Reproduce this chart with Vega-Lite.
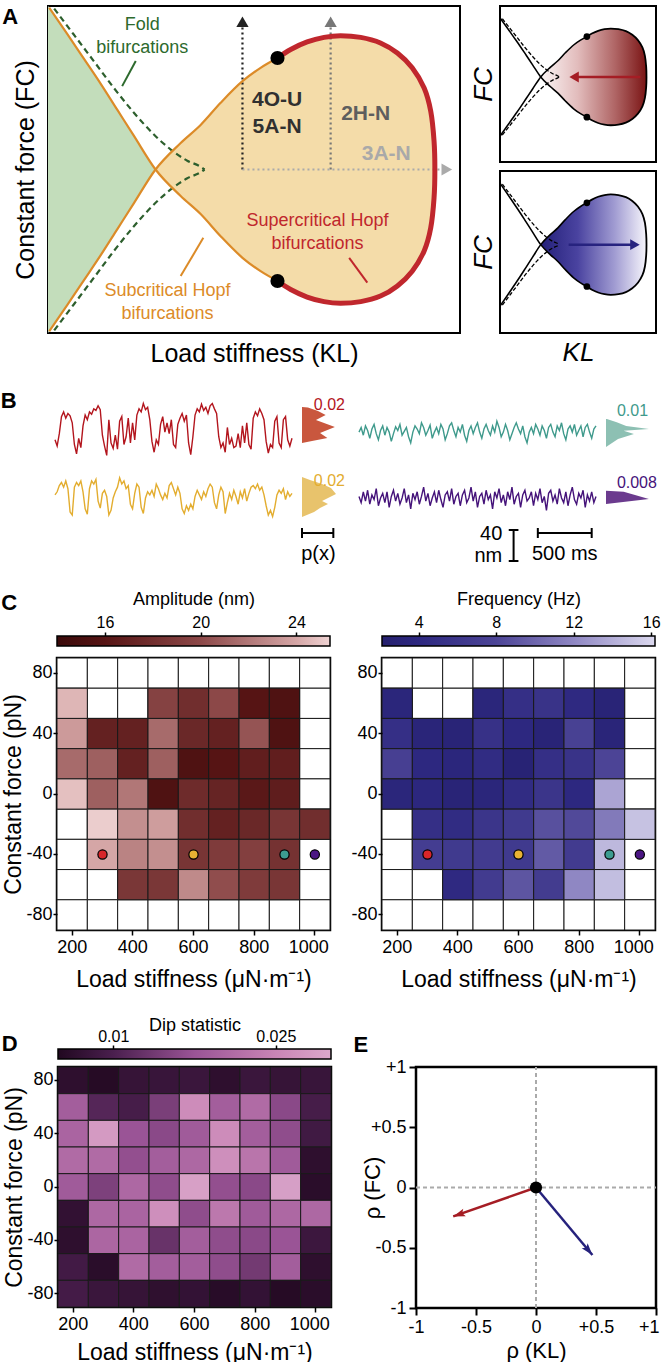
{
"$schema":"https://vega.github.io/schema/vega-lite/v6.json",
"padding":{"left":0,"top":2,"right":0,"bottom":0},
"background":"white",
"columns":1,
"align":"none",
"spacing":23,
"resolve":{"scale":{"color":"independent","fill":"independent"}},
"config":{"font":"Liberation Sans","view":{"stroke":null},"axis":{"grid":false,"labelColor":"black","titleColor":"black","tickColor":"black","domainColor":"black","titleFontWeight":"normal"}},
"datasets":{
"green":[{"x":0,"y":50,"y2":-50},{"x":0.3,"y":49.5,"y2":-49.5},{"x":4.7,"y":41.4,"y2":-41.4},{"x":8.7,"y":33.9,"y2":-33.9},{"x":12.8,"y":26.2,"y2":-26.2},{"x":16.8,"y":18.3,"y2":-18.3},{"x":20.9,"y":10.2,"y2":-10.2},{"x":26.1,"y":0,"y2":0}],
"tan":[{"x":26.1,"y":0,"y2":0},{"x":32.2,"y":8.1,"y2":-8.1},{"x":37.1,"y":13.7,"y2":-13.7},{"x":41.9,"y":20.4,"y2":-20.4},{"x":47.2,"y":27,"y2":-27},{"x":51.6,"y":31.1,"y2":-31.1},{"x":55.7,"y":34.1,"y2":-34.1},{"x":58.9,"y":36.7,"y2":-36.7},{"x":62.9,"y":39,"y2":-39},{"x":67,"y":40.4,"y2":-40.4},{"x":71,"y":40.9,"y2":-40.9},{"x":75.9,"y":40.4,"y2":-40.4},{"x":80.7,"y":38.7,"y2":-38.7},{"x":84.8,"y":35.6,"y2":-35.6},{"x":88.4,"y":31.1,"y2":-31.1},{"x":91.3,"y":24.9,"y2":-24.9},{"x":92.9,"y":17.8,"y2":-17.8},{"x":93.7,"y":8.7,"y2":-8.7},{"x":93.9,"y":0,"y2":0}],
"hopfSub":[{"b":"d","i":0,"x":0.3,"y":49.5},{"b":"d","i":1,"x":4.7,"y":41.4},{"b":"d","i":2,"x":8.7,"y":33.9},{"b":"d","i":3,"x":12.8,"y":26.2},{"b":"d","i":4,"x":16.8,"y":18.3},{"b":"d","i":5,"x":20.9,"y":10.2},{"b":"d","i":6,"x":26.1,"y":0},{"b":"d","i":7,"x":32.2,"y":-8.1},{"b":"d","i":8,"x":37.1,"y":-13.7},{"b":"d","i":9,"x":41.9,"y":-20.4},{"b":"d","i":10,"x":47.2,"y":-27},{"b":"d","i":11,"x":51.6,"y":-31.1},{"b":"d","i":12,"x":55.7,"y":-34.1},
{"b":"a","i":0,"x":0.3,"y":-49.5},{"b":"a","i":1,"x":4.7,"y":-41.4},{"b":"a","i":2,"x":8.7,"y":-33.9},{"b":"a","i":3,"x":12.8,"y":-26.2},{"b":"a","i":4,"x":16.8,"y":-18.3},{"b":"a","i":5,"x":20.9,"y":-10.2},{"b":"a","i":6,"x":26.1,"y":0},{"b":"a","i":7,"x":32.2,"y":8.1},{"b":"a","i":8,"x":37.1,"y":13.7},{"b":"a","i":9,"x":41.9,"y":20.4},{"b":"a","i":10,"x":47.2,"y":27},{"b":"a","i":11,"x":51.6,"y":31.1},{"b":"a","i":12,"x":55.7,"y":34.1}],
"hopfSup":[{"i":0,"x":55.7,"y":34.1},{"i":1,"x":58.9,"y":36.7},{"i":2,"x":62.9,"y":39},{"i":3,"x":67,"y":40.4},{"i":4,"x":71,"y":40.9},{"i":5,"x":75.9,"y":40.4},{"i":6,"x":80.7,"y":38.7},{"i":7,"x":84.8,"y":35.6},{"i":8,"x":88.4,"y":31.1},{"i":9,"x":91.3,"y":24.9},{"i":10,"x":92.9,"y":17.8},{"i":11,"x":93.7,"y":8.7},{"i":12,"x":93.9,"y":0},{"i":13,"x":93.7,"y":-8.7},{"i":14,"x":92.9,"y":-17.8},{"i":15,"x":91.3,"y":-24.9},{"i":16,"x":88.4,"y":-31.1},{"i":17,"x":84.8,"y":-35.6},{"i":18,"x":80.7,"y":-38.7},{"i":19,"x":75.9,"y":-40.4},{"i":20,"x":71,"y":-40.9},{"i":21,"x":67,"y":-40.4},{"i":22,"x":62.9,"y":-39},{"i":23,"x":58.9,"y":-36.7},{"i":24,"x":55.7,"y":-34.1}],
"fold":[{"b":"u","i":0,"x":1.5,"y":49.2},{"b":"u","i":1,"x":6.3,"y":41.2},{"b":"u","i":2,"x":11.2,"y":33},{"b":"u","i":3,"x":16,"y":24.9},{"b":"u","i":4,"x":20.9,"y":17.3},{"b":"u","i":5,"x":25.7,"y":10.7},{"b":"u","i":6,"x":29.8,"y":6.1},{"b":"u","i":7,"x":33.8,"y":2.7},{"b":"u","i":8,"x":37.1,"y":0.8},{"b":"u","i":9,"x":38,"y":0},
{"b":"l","i":0,"x":1.5,"y":-49.2},{"b":"l","i":1,"x":6.3,"y":-41.2},{"b":"l","i":2,"x":11.2,"y":-33},{"b":"l","i":3,"x":16,"y":-24.9},{"b":"l","i":4,"x":20.9,"y":-17.3},{"b":"l","i":5,"x":25.7,"y":-10.7},{"b":"l","i":6,"x":29.8,"y":-6.1},{"b":"l","i":7,"x":33.8,"y":-2.7},{"b":"l","i":8,"x":37.1,"y":-0.8},{"b":"l","i":9,"x":38,"y":0}],
"guides":[{"g":"k","x":47.2,"y":0,"x2":47.2,"y2":43.5},{"g":"m","x":68.6,"y":0,"x2":68.6,"y2":43.5},{"g":"l","x":47.2,"y":0,"x2":95.5,"y2":0}],
"heads":[{"g":"k","x":47.2,"y":45.2},{"g":"m","x":68.6,"y":45.2}],
"headR":[{"g":"l","x":96.8,"y":0}],
"letterA":[{"x":-9.2,"y":46.5,"t":"A"}],
"arrRed":[{"x":90,"x2":48,"y":0}],
"headRed":[{"x":47.5,"y":0}],
"arrBlue":[{"x":44,"x2":86,"y":0}],
"headBlue":[{"x":86.5,"y":0}],
"annA":[{"x":22.9,"y":44.1,"t":"Fold","c":"fold"},{"x":22.9,"y":37.2,"t":"bifurcations","c":"fold"},{"x":65.4,"y":-15.8,"t":"Supercritical Hopf","c":"super"},{"x":65.4,"y":-22.7,"t":"bifurcations","c":"super"},{"x":29,"y":-37.2,"t":"Subcritical Hopf","c":"sub"},{"x":29,"y":-44.1,"t":"bifurcations","c":"sub"}],
"regA":[{"x":55.6,"y":21.4,"t":"4O-U","c":"r1"},{"x":55.6,"y":12.9,"t":"5A-N","c":"r1"},{"x":77.1,"y":17,"t":"2H-N","c":"r2"},{"x":82.1,"y":4.6,"t":"3A-N","c":"r3"}],
"ptrA":[{"x":18,"y":25.5,"x2":21.3,"y2":33.2,"c":"fold"},{"x":73.1,"y":-27,"x2":77.5,"y2":-34.6,"c":"super"},{"x":32.2,"y":-32.6,"x2":37.7,"y2":-20.9,"c":"sub"}],
"trRed":[{"t":0,"v":-14},{"t":0.02,"v":-22},{"t":0.04,"v":-6},{"t":0.06,"v":16},{"t":0.08,"v":22},{"t":0.1,"v":14},{"t":0.12,"v":20},{"t":0.14,"v":17},{"t":0.16,"v":8},{"t":0.18,"v":-20},
{"t":0.2,"v":-32},{"t":0.22,"v":-12},{"t":0.24,"v":-24},{"t":0.26,"v":4},{"t":0.28,"v":18},{"t":0.3,"v":12},{"t":0.32,"v":22},{"t":0.34,"v":19},{"t":0.36,"v":26},{"t":0.38,"v":24},
{"t":0.4,"v":30},{"t":0.42,"v":25},{"t":0.44,"v":-8},{"t":0.46,"v":-22},{"t":0.48,"v":-34},{"t":0.5,"v":12},{"t":0.52,"v":-18},{"t":0.54,"v":-25},{"t":0.56,"v":-8},{"t":0.58,"v":-26},
{"t":0.6,"v":10},{"t":0.62,"v":16},{"t":0.64,"v":-20},{"t":0.66,"v":-10},{"t":0.68,"v":14},{"t":0.7,"v":-18},{"t":0.72,"v":8},{"t":0.74,"v":-14},{"t":0.76,"v":18},{"t":0.78,"v":26},
{"t":0.8,"v":22},{"t":0.82,"v":33},{"t":0.84,"v":25},{"t":0.86,"v":28},{"t":0.88,"v":12},{"t":0.9,"v":-16},{"t":0.92,"v":-30},{"t":0.94,"v":-14},{"t":0.96,"v":-20},{"t":0.98,"v":6},
{"t":1,"v":16},{"t":1.02,"v":-4},{"t":1.04,"v":8},{"t":1.06,"v":-6},{"t":1.08,"v":12},{"t":1.1,"v":-20},{"t":1.12,"v":-24},{"t":1.14,"v":6},{"t":1.16,"v":14},{"t":1.18,"v":20},
{"t":1.2,"v":10},{"t":1.22,"v":18},{"t":1.24,"v":-18},{"t":1.26,"v":-33},{"t":1.28,"v":-10},{"t":1.3,"v":18},{"t":1.32,"v":26},{"t":1.34,"v":22},{"t":1.36,"v":32},{"t":1.38,"v":24},
{"t":1.4,"v":28},{"t":1.42,"v":20},{"t":1.44,"v":30},{"t":1.46,"v":33},{"t":1.48,"v":26},{"t":1.5,"v":20},{"t":1.52,"v":-10},{"t":1.54,"v":-24},{"t":1.56,"v":-18},{"t":1.58,"v":-30},
{"t":1.6,"v":2},{"t":1.62,"v":-20},{"t":1.64,"v":-12},{"t":1.66,"v":-24},{"t":1.68,"v":-22},{"t":1.7,"v":-6},{"t":1.72,"v":-24},{"t":1.74,"v":4},{"t":1.76,"v":-18},{"t":1.78,"v":8},
{"t":1.8,"v":-20},{"t":1.82,"v":-26},{"t":1.84,"v":14},{"t":1.86,"v":22},{"t":1.88,"v":17},{"t":1.9,"v":26},{"t":1.92,"v":20},{"t":1.94,"v":12},{"t":1.96,"v":-16},{"t":1.98,"v":-31},
{"t":2,"v":-20},{"t":2.02,"v":-24},{"t":2.04,"v":10},{"t":2.06,"v":16},{"t":2.08,"v":-18},{"t":2.1,"v":-24},{"t":2.12,"v":12},{"t":2.14,"v":16},{"t":2.16,"v":-14},{"t":2.18,"v":-22},{"t":2.2,"v":-12}],
"trTeal":[{"t":0,"v":-4},{"t":0.02,"v":2},{"t":0.04,"v":-8},{"t":0.06,"v":4},{"t":0.08,"v":-2},{"t":0.1,"v":-12},{"t":0.12,"v":0},{"t":0.14,"v":6},{"t":0.16,"v":-6},{"t":0.18,"v":-14},
{"t":0.2,"v":-2},{"t":0.22,"v":4},{"t":0.24,"v":-8},{"t":0.26,"v":2},{"t":0.28,"v":-4},{"t":0.3,"v":-16},{"t":0.32,"v":-6},{"t":0.34,"v":3},{"t":0.36,"v":-2},{"t":0.38,"v":6},
{"t":0.4,"v":-8},{"t":0.42,"v":-3},{"t":0.44,"v":2},{"t":0.46,"v":-10},{"t":0.48,"v":-18},{"t":0.5,"v":-4},{"t":0.52,"v":4},{"t":0.54,"v":0},{"t":0.56,"v":-6},{"t":0.58,"v":8},
{"t":0.6,"v":2},{"t":0.62,"v":-8},{"t":0.64,"v":-2},{"t":0.66,"v":5},{"t":0.68,"v":-12},{"t":0.7,"v":-4},{"t":0.72,"v":2},{"t":0.74,"v":-6},{"t":0.76,"v":6},{"t":0.78,"v":0},
{"t":0.8,"v":-14},{"t":0.82,"v":-6},{"t":0.84,"v":4},{"t":0.86,"v":8},{"t":0.88,"v":-2},{"t":0.9,"v":-10},{"t":0.92,"v":2},{"t":0.94,"v":-4},{"t":0.96,"v":6},{"t":0.98,"v":-8},
{"t":1,"v":-16},{"t":1.02,"v":-2},{"t":1.04,"v":4},{"t":1.06,"v":-6},{"t":1.08,"v":2},{"t":1.1,"v":8},{"t":1.12,"v":-4},{"t":1.14,"v":-12},{"t":1.16,"v":0},{"t":1.18,"v":6},
{"t":1.2,"v":-2},{"t":1.22,"v":-8},{"t":1.24,"v":4},{"t":1.26,"v":-4},{"t":1.28,"v":10},{"t":1.3,"v":2},{"t":1.32,"v":-10},{"t":1.34,"v":-4},{"t":1.36,"v":6},{"t":1.38,"v":-2},
{"t":1.4,"v":-14},{"t":1.42,"v":-6},{"t":1.44,"v":2},{"t":1.46,"v":8},{"t":1.48,"v":0},{"t":1.5,"v":-6},{"t":1.52,"v":4},{"t":1.54,"v":-10},{"t":1.56,"v":-18},{"t":1.58,"v":-4},
{"t":1.6,"v":2},{"t":1.62,"v":-6},{"t":1.64,"v":6},{"t":1.66,"v":0},{"t":1.68,"v":-8},{"t":1.7,"v":4},{"t":1.72,"v":-2},{"t":1.74,"v":-12},{"t":1.76,"v":2},{"t":1.78,"v":6},
{"t":1.8,"v":-4},{"t":1.82,"v":-10},{"t":1.84,"v":4},{"t":1.86,"v":-2},{"t":1.88,"v":8},{"t":1.9,"v":-6},{"t":1.92,"v":-14},{"t":1.94,"v":0},{"t":1.96,"v":4},{"t":1.98,"v":-4},
{"t":2,"v":6},{"t":2.02,"v":-8},{"t":2.04,"v":-2},{"t":2.06,"v":4},{"t":2.08,"v":-10},{"t":2.1,"v":2},{"t":2.12,"v":6},{"t":2.14,"v":-4},{"t":2.16,"v":-12},{"t":2.18,"v":0},{"t":2.2,"v":4}],
"trYel":[{"t":0,"v":4},{"t":0.02,"v":8},{"t":0.04,"v":16},{"t":0.06,"v":20},{"t":0.08,"v":14},{"t":0.1,"v":22},{"t":0.12,"v":12},{"t":0.14,"v":-18},{"t":0.16,"v":-22},{"t":0.18,"v":14},
{"t":0.2,"v":20},{"t":0.22,"v":16},{"t":0.24,"v":22},{"t":0.26,"v":8},{"t":0.28,"v":-14},{"t":0.3,"v":-21},{"t":0.32,"v":12},{"t":0.34,"v":22},{"t":0.36,"v":18},{"t":0.38,"v":24},
{"t":0.4,"v":-4},{"t":0.42,"v":-13},{"t":0.44,"v":6},{"t":0.46,"v":10},{"t":0.48,"v":2},{"t":0.5,"v":-22},{"t":0.52,"v":-16},{"t":0.54,"v":0},{"t":0.56,"v":8},{"t":0.58,"v":14},
{"t":0.6,"v":26},{"t":0.62,"v":18},{"t":0.64,"v":22},{"t":0.66,"v":12},{"t":0.68,"v":16},{"t":0.7,"v":-8},{"t":0.72,"v":-14},{"t":0.74,"v":6},{"t":0.76,"v":18},{"t":0.78,"v":14},
{"t":0.8,"v":-12},{"t":0.82,"v":-20},{"t":0.84,"v":0},{"t":0.86,"v":8},{"t":0.88,"v":4},{"t":0.9,"v":10},{"t":0.92,"v":2},{"t":0.94,"v":18},{"t":0.96,"v":12},{"t":0.98,"v":4},
{"t":1,"v":-2},{"t":1.02,"v":6},{"t":1.04,"v":0},{"t":1.06,"v":16},{"t":1.08,"v":20},{"t":1.1,"v":12},{"t":1.12,"v":4},{"t":1.14,"v":14},{"t":1.16,"v":6},{"t":1.18,"v":-14},
{"t":1.2,"v":-20},{"t":1.22,"v":-10},{"t":1.24,"v":-16},{"t":1.26,"v":-8},{"t":1.28,"v":-14},{"t":1.3,"v":2},{"t":1.32,"v":10},{"t":1.34,"v":4},{"t":1.36,"v":-2},{"t":1.38,"v":8},
{"t":1.4,"v":2},{"t":1.42,"v":12},{"t":1.44,"v":18},{"t":1.46,"v":14},{"t":1.48,"v":-6},{"t":1.5,"v":-14},{"t":1.52,"v":4},{"t":1.54,"v":14},{"t":1.56,"v":8},{"t":1.58,"v":-20},
{"t":1.6,"v":-6},{"t":1.62,"v":6},{"t":1.64,"v":-2},{"t":1.66,"v":10},{"t":1.68,"v":2},{"t":1.7,"v":-8},{"t":1.72,"v":8},{"t":1.74,"v":0},{"t":1.76,"v":12},{"t":1.78,"v":-4},
{"t":1.8,"v":6},{"t":1.82,"v":14},{"t":1.84,"v":16},{"t":1.86,"v":12},{"t":1.88,"v":18},{"t":1.9,"v":10},{"t":1.92,"v":14},{"t":1.94,"v":4},{"t":1.96,"v":-10},{"t":1.98,"v":-22},
{"t":2,"v":-16},{"t":2.02,"v":-24},{"t":2.04,"v":-12},{"t":2.06,"v":4},{"t":2.08,"v":10},{"t":2.1,"v":6},{"t":2.12,"v":12},{"t":2.14,"v":-2},{"t":2.16,"v":8},{"t":2.18,"v":2},{"t":2.2,"v":6}],
"trPur":[{"t":0,"v":2},{"t":0.02,"v":-6},{"t":0.04,"v":8},{"t":0.06,"v":-4},{"t":0.08,"v":10},{"t":0.1,"v":-8},{"t":0.12,"v":4},{"t":0.14,"v":-2},{"t":0.16,"v":12},{"t":0.18,"v":-10},
{"t":0.2,"v":0},{"t":0.22,"v":6},{"t":0.24,"v":-6},{"t":0.26,"v":8},{"t":0.28,"v":-12},{"t":0.3,"v":2},{"t":0.32,"v":10},{"t":0.34,"v":-4},{"t":0.36,"v":6},{"t":0.38,"v":-8},
{"t":0.4,"v":0},{"t":0.42,"v":12},{"t":0.44,"v":-6},{"t":0.46,"v":4},{"t":0.48,"v":-14},{"t":0.5,"v":6},{"t":0.52,"v":-2},{"t":0.54,"v":8},{"t":0.56,"v":-8},{"t":0.58,"v":2},
{"t":0.6,"v":14},{"t":0.62,"v":-4},{"t":0.64,"v":6},{"t":0.66,"v":-10},{"t":0.68,"v":0},{"t":0.7,"v":8},{"t":0.72,"v":-6},{"t":0.74,"v":10},{"t":0.76,"v":-2},{"t":0.78,"v":-12},
{"t":0.8,"v":4},{"t":0.82,"v":8},{"t":0.84,"v":-4},{"t":0.86,"v":12},{"t":0.88,"v":-8},{"t":0.9,"v":2},{"t":0.92,"v":6},{"t":0.94,"v":-10},{"t":0.96,"v":4},{"t":0.98,"v":10},
{"t":1,"v":-6},{"t":1.02,"v":0},{"t":1.04,"v":14},{"t":1.06,"v":-4},{"t":1.08,"v":8},{"t":1.1,"v":-12},{"t":1.12,"v":2},{"t":1.14,"v":6},{"t":1.16,"v":-8},{"t":1.18,"v":10},
{"t":1.2,"v":-2},{"t":1.22,"v":4},{"t":1.24,"v":-14},{"t":1.26,"v":8},{"t":1.28,"v":0},{"t":1.3,"v":12},{"t":1.32,"v":-6},{"t":1.34,"v":4},{"t":1.36,"v":-10},{"t":1.38,"v":8},
{"t":1.4,"v":-2},{"t":1.42,"v":14},{"t":1.44,"v":-8},{"t":1.46,"v":2},{"t":1.48,"v":6},{"t":1.5,"v":-12},{"t":1.52,"v":4},{"t":1.54,"v":10},{"t":1.56,"v":-4},{"t":1.58,"v":0},
{"t":1.6,"v":8},{"t":1.62,"v":-10},{"t":1.64,"v":6},{"t":1.66,"v":-2},{"t":1.68,"v":12},{"t":1.7,"v":-6},{"t":1.72,"v":2},{"t":1.74,"v":-16},{"t":1.76,"v":6},{"t":1.78,"v":10},
{"t":1.8,"v":-4},{"t":1.82,"v":4},{"t":1.84,"v":-8},{"t":1.86,"v":12},{"t":1.88,"v":0},{"t":1.9,"v":-6},{"t":1.92,"v":8},{"t":1.94,"v":-10},{"t":1.96,"v":4},{"t":1.98,"v":14},
{"t":2,"v":-2},{"t":2.02,"v":-8},{"t":2.04,"v":6},{"t":2.06,"v":0},{"t":2.08,"v":10},{"t":2.1,"v":-12},{"t":2.12,"v":4},{"t":2.14,"v":-4},{"t":2.16,"v":8},{"t":2.18,"v":-6},{"t":2.2,"v":2}],
"hRed":[{"v":28.4,"p":0},{"v":27.8,"p":0.0038},{"v":23.2,"p":0.0102},{"v":18.1,"p":0.0151},{"v":11.6,"p":0.0089},{"v":2.6,"p":0.021},{"v":-5.2,"p":0.0115},{"v":-11.6,"p":0.0162},{"v":-15.5,"p":0.0064},{"v":-18.1,"p":0}],
"hYel":[{"v":27.1,"p":0},{"v":23.2,"p":0.0051},{"v":18.1,"p":0.0128},{"v":12.9,"p":0.0185},{"v":5.2,"p":0.0217},{"v":-3.9,"p":0.0128},{"v":-7.7,"p":0.0166},{"v":-12.9,"p":0.0115},{"v":-18.1,"p":0.0077},{"v":-24.5,"p":0}],
"hTeal":[{"v":13,"p":0},{"v":12.9,"p":0.0002},{"v":8.6,"p":0.0025},{"v":3.9,"p":0.0047},{"v":0,"p":0.01},{"v":-2.2,"p":0.0041},{"v":-6.5,"p":0.0065},{"v":-12.9,"p":0.0028},{"v":-23.2,"p":0}],
"hPur":[{"v":9.4,"p":0},{"v":8.1,"p":0.0033},{"v":-1.3,"p":0.008},{"v":-7.7,"p":0}],
"dots":[{"k":300,"f":-40,"c":"r"},{"k":600,"f":-40,"c":"y"},{"k":900,"f":-40,"c":"t"},{"k":1000,"f":-40,"c":"p"}],
"rho":[{"var":"amplitude","k0":0,"f0":0,"rk":-0.69,"rf":-0.24},{"var":"frequency","k0":0,"f0":0,"rk":0.47,"rf":-0.56}],
"grid":[
{"k":200,"f":80,"a":null,"q":null,"d":0.0065},{"k":300,"f":80,"a":null,"q":null,"d":0.0055},{"k":400,"f":80,"a":null,"q":null,"d":0.0075},{"k":500,"f":80,"a":null,"q":null,"d":0.0078},{"k":600,"f":80,"a":null,"q":null,"d":0.008},{"k":700,"f":80,"a":null,"q":null,"d":0.0065},{"k":800,"f":80,"a":null,"q":null,"d":0.008},{"k":900,"f":80,"a":null,"q":null,"d":0.0075},{"k":1000,"f":80,"a":null,"q":null,"d":0.0078},
{"k":200,"f":60,"a":24.5,"q":3.5,"d":0.019},{"k":300,"f":60,"a":null,"q":null,"d":0.011},{"k":400,"f":60,"a":null,"q":null,"d":0.0095},{"k":500,"f":60,"a":19.5,"q":3.5,"d":0.0145},{"k":600,"f":60,"a":18,"q":5,"d":0.026},{"k":700,"f":60,"a":20,"q":5.5,"d":0.019},{"k":800,"f":60,"a":16,"q":4.2,"d":0.021},{"k":900,"f":60,"a":15.5,"q":3,"d":0.016},{"k":1000,"f":60,"a":null,"q":null,"d":0.0095},
{"k":200,"f":40,"a":23.5,"q":5,"d":0.02},{"k":300,"f":40,"a":17,"q":3.3,"d":0.028},{"k":400,"f":40,"a":17,"q":3,"d":0.0175},{"k":500,"f":40,"a":21.5,"q":5.3,"d":0.016},{"k":600,"f":40,"a":17.5,"q":4,"d":0.0185},{"k":700,"f":40,"a":17,"q":3,"d":0.026},{"k":800,"f":40,"a":20.5,"q":7.5,"d":0.019},{"k":900,"f":40,"a":15.5,"q":3.3,"d":0.0165},{"k":1000,"f":40,"a":null,"q":null,"d":0.0088},
{"k":200,"f":20,"a":21.5,"q":7.3,"d":0.021},{"k":300,"f":20,"a":21,"q":4,"d":0.021},{"k":400,"f":20,"a":17,"q":3.6,"d":0.0168},{"k":500,"f":20,"a":21,"q":4.5,"d":0.019},{"k":600,"f":20,"a":15.5,"q":2.8,"d":0.0205},{"k":700,"f":20,"a":16,"q":5,"d":0.0265},{"k":800,"f":20,"a":16.8,"q":5.5,"d":0.0225},{"k":900,"f":20,"a":16.8,"q":8,"d":0.0185},{"k":1000,"f":20,"a":null,"q":null,"d":0.0065},
{"k":200,"f":0,"a":24.8,"q":3.5,"d":0.0185},{"k":300,"f":0,"a":21,"q":3.8,"d":0.0148},{"k":400,"f":0,"a":22,"q":3,"d":0.0205},{"k":500,"f":0,"a":15.5,"q":3.5,"d":0.0165},{"k":600,"f":0,"a":17.8,"q":4.5,"d":0.029},{"k":700,"f":0,"a":17.2,"q":5.8,"d":0.0168},{"k":800,"f":0,"a":16.3,"q":4,"d":0.016},{"k":900,"f":0,"a":16.7,"q":13.5,"d":0.0288},{"k":1000,"f":0,"a":null,"q":null,"d":0.006},
{"k":200,"f":-20,"a":null,"q":null,"d":0.007},{"k":300,"f":-20,"a":25.2,"q":5,"d":0.0205},{"k":400,"f":-20,"a":23,"q":4.5,"d":0.02},{"k":500,"f":-20,"a":23.6,"q":5.8,"d":0.0265},{"k":600,"f":-20,"a":18,"q":6.5,"d":0.0165},{"k":700,"f":-20,"a":17,"q":8.7,"d":0.023},{"k":800,"f":-20,"a":17.5,"q":8.3,"d":0.0185},{"k":900,"f":-20,"a":18.5,"q":11.2,"d":0.0205},{"k":1000,"f":-20,"a":18,"q":15,"d":0.0205},
{"k":200,"f":-40,"a":null,"q":null,"d":0.0065},{"k":300,"f":-40,"a":24,"q":7,"d":0.0203},{"k":400,"f":-40,"a":22.5,"q":6.5,"d":0.02},{"k":500,"f":-40,"a":23,"q":6.7,"d":0.0128},{"k":600,"f":-40,"a":18.5,"q":6.5,"d":0.019},{"k":700,"f":-40,"a":19,"q":9.3,"d":0.0165},{"k":800,"f":-40,"a":19.3,"q":6.7,"d":0.016},{"k":900,"f":-40,"a":18.3,"q":14.5,"d":0.0175},{"k":1000,"f":-40,"a":null,"q":null,"d":0.0082},
{"k":200,"f":-60,"a":null,"q":null,"d":0.009},{"k":300,"f":-60,"a":null,"q":null,"d":0.006},{"k":400,"f":-60,"a":18.7,"q":4.2,"d":0.021},{"k":500,"f":-60,"a":18.7,"q":6.7,"d":0.019},{"k":600,"f":-60,"a":22.8,"q":9,"d":0.019},{"k":700,"f":-60,"a":20.2,"q":6.8,"d":0.0165},{"k":800,"f":-60,"a":19,"q":12,"d":0.0138},{"k":900,"f":-60,"a":18.6,"q":14.8,"d":0.019},{"k":1000,"f":-60,"a":null,"q":null,"d":0.0065},
{"k":200,"f":-80,"a":null,"q":null,"d":0.0092},{"k":300,"f":-80,"a":null,"q":null,"d":0.008},{"k":400,"f":-80,"a":null,"q":null,"d":0.0075},{"k":500,"f":-80,"a":null,"q":null,"d":0.0066},{"k":600,"f":-80,"a":null,"q":null,"d":0.0072},{"k":700,"f":-80,"a":null,"q":null,"d":0.0058},{"k":800,"f":-80,"a":null,"q":null,"d":0.0072},{"k":900,"f":-80,"a":null,"q":null,"d":0.0055},{"k":1000,"f":-80,"a":null,"q":null,"d":0.006}]
},
"concat":[
{"hconcat":[
 {"width":1,"height":1,"data":{"values":[]},"mark":{"type":"point","opacity":0}},
 {"hconcat":[
 {"width":412,"height":327,
  "view":{"stroke":"black","strokeWidth":2},
  "encoding":{
   "x":{"field":"x","type":"quantitative","scale":{"domain":[0,100],"nice":false,"zero":false},"axis":{"title":"Load stiffness (KL)","labels":false,"ticks":false,"domain":false,"titleFontSize":25,"titlePadding":8}},
   "y":{"field":"y","type":"quantitative","scale":{"domain":[-50,50],"nice":false,"zero":false},"axis":{"title":"Constant force (FC)","labels":false,"ticks":false,"domain":false,"titleFontSize":25,"titlePadding":10}}},
  "layer":[
   {"data":{"name":"green"},"mark":{"type":"area","interpolate":"monotone","color":"#c3ddbb"},"encoding":{"y2":{"field":"y2"}}},
   {"data":{"name":"tan"},"mark":{"type":"area","interpolate":"monotone","color":"#f4dca9"},"encoding":{"y2":{"field":"y2"}}},
   {"data":{"name":"guides"},"mark":{"type":"rule","strokeWidth":2.2,"strokeDash":[2,3]},"encoding":{"x2":{"field":"x2"},"y2":{"field":"y2"},"stroke":{"field":"g","type":"nominal","scale":{"domain":["k","m","l"],"range":["#222222","#777777","#aaaaaa"]},"legend":null}}},
   {"data":{"name":"fold"},"mark":{"type":"line","stroke":"#2d5f2d","strokeWidth":2.2,"strokeDash":[6,4],"interpolate":"monotone"},"encoding":{"detail":{"field":"b","type":"nominal"},"order":{"field":"i","type":"quantitative"}}},
   {"data":{"name":"hopfSub"},"mark":{"type":"line","stroke":"#dc8b28","strokeWidth":2.2,"interpolate":"monotone"},"encoding":{"detail":{"field":"b","type":"nominal"},"order":{"field":"i","type":"quantitative"}}},
   {"data":{"name":"hopfSup"},"mark":{"type":"line","stroke":"#c0272d","strokeWidth":5,"interpolate":"cardinal"},"encoding":{"order":{"field":"i","type":"quantitative"}}},
   {"data":{"name":"heads"},"mark":{"type":"point","shape":"triangle-up","filled":true,"size":150,"opacity":1},"encoding":{"fill":{"field":"g","type":"nominal","scale":{"domain":["k","m","l"],"range":["#222222","#777777","#aaaaaa"]},"legend":null}}},
   {"data":{"name":"headR"},"mark":{"type":"point","shape":"triangle-right","filled":true,"color":"#aaaaaa","size":150,"opacity":1}},
   {"data":{"values":[{"x":55.7,"y":34.1},{"x":55.7,"y":-34.1}]},"mark":{"type":"point","filled":true,"color":"black","size":200,"opacity":1}},
   {"data":{"name":"ptrA"},"mark":{"type":"rule","strokeWidth":2},"encoding":{"x2":{"field":"x2"},"y2":{"field":"y2"},"color":{"field":"c","type":"nominal","scale":{"domain":["fold","super","sub","r1","r2","r3"],"range":["#2d6a2d","#c0272d","#dc8b28","#303030","#5e5e5e","#a9a9a9"]},"legend":null}}},
   {"data":{"name":"annA"},"mark":{"type":"text","fontSize":18},"encoding":{"text":{"field":"t","type":"nominal"},"color":{"field":"c","type":"nominal","scale":{"domain":["fold","super","sub","r1","r2","r3"],"range":["#2d6a2d","#c0272d","#dc8b28","#303030","#5e5e5e","#a9a9a9"]},"legend":null}}},
   {"data":{"name":"regA"},"mark":{"type":"text","fontSize":21,"fontWeight":"bold"},"encoding":{"text":{"field":"t","type":"nominal"},"color":{"field":"c","type":"nominal","scale":{"domain":["fold","super","sub","r1","r2","r3"],"range":["#2d6a2d","#c0272d","#dc8b28","#303030","#5e5e5e","#a9a9a9"]},"legend":null}}},
   {"data":{"name":"letterA"},"mark":{"type":"text","fontSize":22,"fontWeight":"bold","color":"black"},"encoding":{"text":{"field":"t","type":"nominal"}}}
  ]},
 {"vconcat":[
  {"width":156,"height":156,
   "view":{"stroke":"black","strokeWidth":2},
   "encoding":{"x":{"field":"x","type":"quantitative","scale":{"domain":[0,100],"nice":false,"zero":false},"axis":null},
    "y":{"field":"y","type":"quantitative","scale":{"domain":[-72,60],"nice":false,"zero":false},"axis":{"title":"FC","labels":false,"ticks":false,"domain":false,"titleFontSize":26,"titleFontStyle":"italic","titlePadding":4}}},
   "layer":[
    {"data":{"name":"tan"},"mark":{"type":"area","interpolate":"monotone","color":{"gradient":"linear","x1":0,"y1":0,"x2":1,"y2":0,"stops":[{"offset":0,"color":"#fbf5f5"},{"offset":0.35,"color":"#e2bcbc"},{"offset":0.7,"color":"#b06666"},{"offset":1,"color":"#7a1414"}]}},"encoding":{"y2":{"field":"y2"}}},
    {"data":{"name":"fold"},"mark":{"type":"line","stroke":"black","strokeWidth":1.3,"strokeDash":[4,2],"interpolate":"monotone","clip":true},"encoding":{"detail":{"field":"b","type":"nominal"},"order":{"field":"i","type":"quantitative"}}},
    {"data":{"name":"hopfSub"},"mark":{"type":"line","stroke":"black","strokeWidth":1.6,"interpolate":"monotone","clip":true},"encoding":{"detail":{"field":"b","type":"nominal"},"order":{"field":"i","type":"quantitative"}}},
    {"data":{"name":"hopfSup"},"mark":{"type":"line","stroke":"black","strokeWidth":1.8,"interpolate":"cardinal"},"encoding":{"order":{"field":"i","type":"quantitative"}}},
    {"data":{"values":[{"x":55.7,"y":34.1},{"x":55.7,"y":-34.1}]},"mark":{"type":"point","filled":true,"color":"black","size":45,"opacity":1}},
    {"data":{"name":"arrRed"},"mark":{"type":"rule","color":"#a51d24","strokeWidth":2.5},"encoding":{"x2":{"field":"x2"}}},
    {"data":{"name":"headRed"},"mark":{"type":"point","shape":"triangle-left","filled":true,"color":"#a51d24","size":120,"opacity":1}}
   ]},
  {"width":156,"height":162,
   "view":{"stroke":"black","strokeWidth":2},
   "encoding":{"x":{"field":"x","type":"quantitative","scale":{"domain":[0,100],"nice":false,"zero":false},"axis":{"title":"KL","labels":false,"ticks":false,"domain":false,"titleFontSize":26,"titleFontStyle":"italic","titlePadding":6}},
    "y":{"field":"y","type":"quantitative","scale":{"domain":[-72,60],"nice":false,"zero":false},"axis":{"title":"FC","labels":false,"ticks":false,"domain":false,"titleFontSize":26,"titleFontStyle":"italic","titlePadding":4}}},
   "layer":[
    {"data":{"name":"tan"},"mark":{"type":"area","interpolate":"monotone","color":{"gradient":"linear","x1":0,"y1":0,"x2":1,"y2":0,"stops":[{"offset":0,"color":"#24207a"},{"offset":0.35,"color":"#4a43a0"},{"offset":0.7,"color":"#a19cd2"},{"offset":1,"color":"#f7f6fc"}]}},"encoding":{"y2":{"field":"y2"}}},
    {"data":{"name":"fold"},"mark":{"type":"line","stroke":"black","strokeWidth":1.3,"strokeDash":[4,2],"interpolate":"monotone","clip":true},"encoding":{"detail":{"field":"b","type":"nominal"},"order":{"field":"i","type":"quantitative"}}},
    {"data":{"name":"hopfSub"},"mark":{"type":"line","stroke":"black","strokeWidth":1.6,"interpolate":"monotone","clip":true},"encoding":{"detail":{"field":"b","type":"nominal"},"order":{"field":"i","type":"quantitative"}}},
    {"data":{"name":"hopfSup"},"mark":{"type":"line","stroke":"black","strokeWidth":1.8,"interpolate":"cardinal"},"encoding":{"order":{"field":"i","type":"quantitative"}}},
    {"data":{"values":[{"x":55.7,"y":34.1},{"x":55.7,"y":-34.1}]},"mark":{"type":"point","filled":true,"color":"black","size":45,"opacity":1}},
    {"data":{"name":"arrBlue"},"mark":{"type":"rule","color":"#27237f","strokeWidth":2.5},"encoding":{"x2":{"field":"x2"}}},
    {"data":{"name":"headBlue"},"mark":{"type":"point","shape":"triangle-right","filled":true,"color":"#27237f","size":120,"opacity":1}}
   ]}
 ],"spacing":9,"bounds":"flush"}
 ],"spacing":8}
],"spacing":0,"resolve":{"scale":{"color":"independent","fill":"independent"}}},
{"hconcat":[
 {"width":45,"height":1,"data":{"values":[]},"mark":{"type":"point","opacity":0}},
 {"width":237,"height":170,
  "resolve":{"scale":{"y":"independent"}},
  "layer":[
   {"data":{"name":"trRed"},"mark":{"type":"line","color":"#b3151d","strokeWidth":1.4},"encoding":{"x":{"field":"t","type":"quantitative","scale":{"domain":[0,2.2],"nice":false},"axis":null},"y":{"field":"v","type":"quantitative","scale":{"domain":[-178.06,41.29],"nice":false},"axis":null}}},
   {"data":{"values":[{}]},"mark":{"type":"text","text":"B","fontSize":22,"fontWeight":"bold"},"encoding":{"x":{"datum":-0.43,"type":"quantitative","scale":{"domain":[0,2.2],"nice":false},"axis":null},"y":{"datum":36,"type":"quantitative","scale":{"domain":[-178.06,41.29],"nice":false},"axis":null}}},
   {"data":{"name":"trYel"},"mark":{"type":"line","color":"#e3ad2f","strokeWidth":1.4},"encoding":{"x":{"field":"t","type":"quantitative","scale":{"domain":[0,2.2],"nice":false},"axis":null},"y":{"field":"v","type":"quantitative","scale":{"domain":[-89.03,130.32],"nice":false},"axis":null}}}
  ]},
 {"width":47,"height":170,
  "resolve":{"scale":{"y":"independent"}},
  "layer":[
   {"data":{"name":"hRed"},"mark":{"type":"area","orient":"horizontal","color":"#c9573e"},"encoding":{"x":{"field":"p","type":"quantitative","scale":{"domain":[0,0.03],"nice":false},"axis":null},"y":{"field":"v","type":"quantitative","scale":{"domain":[-178.06,41.29],"nice":false},"axis":null}}},
   {"data":{"values":[{}]},"mark":{"type":"text","text":"0.02","align":"right","fontSize":16,"color":"#b3151d"},"encoding":{"x":{"datum":0.0274,"type":"quantitative","scale":{"domain":[0,0.03],"nice":false},"axis":null},"y":{"datum":31,"type":"quantitative","scale":{"domain":[-178.06,41.29],"nice":false},"axis":null}}},
   {"data":{"name":"hYel"},"mark":{"type":"area","orient":"horizontal","color":"#e8c36c"},"encoding":{"x":{"field":"p","type":"quantitative","scale":{"domain":[0,0.03],"nice":false},"axis":null},"y":{"field":"v","type":"quantitative","scale":{"domain":[-89.03,130.32],"nice":false},"axis":null}}},
   {"data":{"values":[{}]},"mark":{"type":"text","text":"0.02","align":"right","fontSize":16,"color":"#e3ad2f"},"encoding":{"x":{"datum":0.0274,"type":"quantitative","scale":{"domain":[0,0.03],"nice":false},"axis":null},"y":{"datum":21.9,"type":"quantitative","scale":{"domain":[-89.03,130.32],"nice":false},"axis":null}}},
   {"data":{"values":[{"p":0,"p2":0.02,"v":-45.2,"v2":-45.2},{"p":0,"p2":0,"v":-38.7,"v2":-51.6},{"p":0.02,"p2":0.02,"v":-38.7,"v2":-51.6}]},"mark":{"type":"rule","color":"black","strokeWidth":2},"encoding":{"x":{"field":"p","type":"quantitative","scale":{"domain":[0,0.03],"nice":false},"axis":null},"x2":{"field":"p2"},"y":{"field":"v","type":"quantitative","scale":{"domain":[-89.03,130.32],"nice":false},"axis":null},"y2":{"field":"v2"}}},
   {"data":{"values":[{}]},"mark":{"type":"text","text":"p(x)","fontSize":20},"encoding":{"x":{"datum":0.0105,"type":"quantitative","scale":{"domain":[0,0.03],"nice":false},"axis":null},"y":{"datum":-72.3,"type":"quantitative","scale":{"domain":[-89.03,130.32],"nice":false},"axis":null}}}
  ]},
 {"width":237,"height":170,
  "resolve":{"scale":{"y":"independent"}},
  "layer":[
   {"data":{"name":"trTeal"},"mark":{"type":"line","color":"#3f9a8c","strokeWidth":1.4},"encoding":{"x":{"field":"t","type":"quantitative","scale":{"domain":[0,2.2],"nice":false},"axis":null},"y":{"field":"v","type":"quantitative","scale":{"domain":[-178.06,41.29],"nice":false},"axis":null}}},
   {"data":{"name":"trPur"},"mark":{"type":"line","color":"#45137a","strokeWidth":1.4},"encoding":{"x":{"field":"t","type":"quantitative","scale":{"domain":[0,2.2],"nice":false},"axis":null},"y":{"field":"v","type":"quantitative","scale":{"domain":[-89.03,130.32],"nice":false},"axis":null}}},
   {"data":{"values":[{"t":1.435,"t2":1.435,"v":-41.3,"v2":-81.3},{"t":1.39,"t2":1.48,"v":-41.3,"v2":-41.3},{"t":1.39,"t2":1.48,"v":-81.3,"v2":-81.3},{"t":1.66,"t2":2.16,"v":-45.2,"v2":-45.2},{"t":1.66,"t2":1.66,"v":-38.7,"v2":-51.6},{"t":2.16,"t2":2.16,"v":-38.7,"v2":-51.6}]},"mark":{"type":"rule","color":"black","strokeWidth":2},"encoding":{"x":{"field":"t","type":"quantitative","scale":{"domain":[0,2.2],"nice":false},"axis":null},"x2":{"field":"t2"},"y":{"field":"v","type":"quantitative","scale":{"domain":[-89.03,130.32],"nice":false},"axis":null},"y2":{"field":"v2"}}},
   {"data":{"values":[{"t":1.33,"v":-46.5,"s":"40"},{"t":1.33,"v":-74.8,"s":"nm"}]},"mark":{"type":"text","align":"right","fontSize":20},"encoding":{"x":{"field":"t","type":"quantitative","scale":{"domain":[0,2.2],"nice":false},"axis":null},"y":{"field":"v","type":"quantitative","scale":{"domain":[-89.03,130.32],"nice":false},"axis":null},"text":{"field":"s","type":"nominal"}}},
   {"data":{"values":[{"t":1.91,"v":-72.3,"s":"500 ms"}]},"mark":{"type":"text","align":"center","fontSize":20},"encoding":{"x":{"field":"t","type":"quantitative","scale":{"domain":[0,2.2],"nice":false},"axis":null},"y":{"field":"v","type":"quantitative","scale":{"domain":[-89.03,130.32],"nice":false},"axis":null},"text":{"field":"s","type":"nominal"}}}
  ]},
 {"width":52,"height":170,
  "resolve":{"scale":{"y":"independent","x":"independent"}},
  "layer":[
   {"data":{"name":"hTeal"},"mark":{"type":"area","orient":"horizontal","color":"#8dc0b3"},"encoding":{"x":{"field":"p","type":"quantitative","scale":{"domain":[0,0.0121],"nice":false},"axis":null},"y":{"field":"v","type":"quantitative","scale":{"domain":[-178.06,41.29],"nice":false},"axis":null}}},
   {"data":{"values":[{}]},"mark":{"type":"text","text":"0.01","align":"right","fontSize":16,"color":"#3f9a8c"},"encoding":{"x":{"datum":0.0098,"type":"quantitative","scale":{"domain":[0,0.0121],"nice":false},"axis":null},"y":{"datum":23.2,"type":"quantitative","scale":{"domain":[-178.06,41.29],"nice":false},"axis":null}}},
   {"data":{"name":"hPur"},"mark":{"type":"area","orient":"horizontal","color":"#6b3b8e"},"encoding":{"x":{"field":"p","type":"quantitative","scale":{"domain":[0,0.0097],"nice":false},"axis":null},"y":{"field":"v","type":"quantitative","scale":{"domain":[-89.03,130.32],"nice":false},"axis":null}}},
   {"data":{"values":[{}]},"mark":{"type":"text","text":"0.008","align":"right","fontSize":16,"color":"#45137a"},"encoding":{"x":{"datum":0.0095,"type":"quantitative","scale":{"domain":[0,0.0097],"nice":false},"axis":null},"y":{"datum":19.4,"type":"quantitative","scale":{"domain":[-89.03,130.32],"nice":false},"axis":null}}}
  ]}
],"spacing":10,"bounds":"flush"},
{"hconcat":[
 {"width":1,"height":1,"data":{"values":[]},"mark":{"type":"point","opacity":0}},
 {"hconcat":[
 {"vconcat":[
  {"width":273,"height":10,
   "data":{"values":[{"lo":14,"hi":25.4}]},
   "layer":[
    {"mark":{"type":"rect","color":{"gradient":"linear","x1":0,"y1":0,"x2":1,"y2":0,"stops":[{"offset":0,"color":"#3a0a0a"},{"offset":0.175,"color":"#561414"},{"offset":0.526,"color":"#8c4848"},{"offset":0.877,"color":"#d5a6a6"},{"offset":1,"color":"#efd3d3"}]},"stroke":"black","strokeWidth":1.5},
     "encoding":{"x":{"field":"lo","type":"quantitative","scale":{"domain":[14,25.4],"nice":false,"zero":false},"axis":{"orient":"top","values":[16,20,24],"title":"Amplitude (nm)","tickSize":4,"tickWidth":1.5,"labelFontSize":16,"titleFontSize":18,"titlePadding":6,"labelPadding":2,"domain":false,"labelFlush":false}},"x2":{"field":"hi"},"y":{"datum":0,"type":"quantitative","scale":{"domain":[0,1],"nice":false},"axis":null},"y2":{"datum":1}}},
    {"mark":{"type":"text","text":"C","fontSize":22,"fontWeight":"bold"},"encoding":{"x":{"datum":12,"type":"quantitative","scale":{"domain":[14,25.4],"nice":false,"zero":false}},"y":{"datum":4.3,"type":"quantitative","scale":{"domain":[0,1],"nice":false}}}}
   ]},
  {"width":273,"height":272,
   "view":{"stroke":"black","strokeWidth":2.5},
   "data":{"name":"grid"},
   "encoding":{
    "x":{"field":"k","type":"ordinal","scale":{"domain":[200,300,400,500,600,700,800,900,1000],"paddingInner":0,"paddingOuter":0},"axis":{"values":[200,400,600,800,1000],"title":"Load stiffness (μN·m⁻¹)","labelAngle":0,"labelAlign":{"condition":{"test":"datum.value === 1000","value":"right"},"value":"center"},"labelOffset":{"condition":{"test":"datum.value === 1000","value":14},"value":0},"domain":false,"tickSize":5,"tickWidth":1.5,"labelFontSize":18,"titleFontSize":23,"labelPadding":3,"titlePadding":12}},
    "y":{"field":"f","type":"ordinal","scale":{"domain":[80,60,40,20,0,-20,-40,-60,-80],"paddingInner":0,"paddingOuter":0},"axis":{"values":[80,40,0,-40,-80],"title":"Constant force (pN)","domain":false,"tickSize":4,"tickWidth":1.5,"labelFontSize":18,"titleFontSize":23,"labelPadding":1,"titlePadding":0}}},
   "layer":[
    {"mark":{"type":"rect","fill":"white","stroke":"#1a1a1a","strokeWidth":1}},
    {"transform":[{"filter":"isValid(datum.a)"}],"mark":{"type":"rect","stroke":"#1a1a1a","strokeWidth":1},"encoding":{"color":{"field":"a","type":"quantitative","scale":{"domain":[14,16,20,24,25.4],"range":["#3a0a0a","#561414","#8c4848","#d5a6a6","#efd3d3"],"interpolate":"rgb"},"legend":null}}},
    {"data":{"name":"dots"},"mark":{"type":"point","filled":true,"size":85,"stroke":"black","strokeWidth":1.2,"opacity":1},"encoding":{"fill":{"field":"c","type":"nominal","scale":{"domain":["r","y","t","p"],"range":["#d8262a","#e9b233","#3c9c90","#4b1683"]},"legend":null}}}
   ]}
 ],"spacing":12,"bounds":"flush"},
 {"vconcat":[
  {"width":273,"height":10,
   "data":{"values":[{"lo":2.1,"hi":16.2}]},
   "mark":{"type":"rect","color":{"gradient":"linear","x1":0,"y1":0,"x2":1,"y2":0,"stops":[{"offset":0,"color":"#25206e"},{"offset":0.135,"color":"#2d2880"},{"offset":0.418,"color":"#4c4496"},{"offset":0.702,"color":"#8f87c3"},{"offset":1,"color":"#dcd9ef"}]},"stroke":"black","strokeWidth":1.5},
   "encoding":{"x":{"field":"lo","type":"quantitative","scale":{"domain":[2.1,16.2],"nice":false,"zero":false},"axis":{"orient":"top","values":[4,8,12,16],"title":"Frequency (Hz)","tickSize":4,"tickWidth":1.5,"labelFontSize":16,"titleFontSize":18,"titlePadding":6,"labelPadding":2,"domain":false,"labelFlush":false}},"x2":{"field":"hi"},"y":{"datum":0,"type":"quantitative","scale":{"domain":[0,1],"nice":false},"axis":null},"y2":{"datum":1}}},
  {"width":273,"height":272,
   "view":{"stroke":"black","strokeWidth":2.5},
   "data":{"name":"grid"},
   "encoding":{
    "x":{"field":"k","type":"ordinal","scale":{"domain":[200,300,400,500,600,700,800,900,1000],"paddingInner":0,"paddingOuter":0},"axis":{"values":[200,400,600,800,1000],"title":"Load stiffness (μN·m⁻¹)","labelAngle":0,"labelAlign":{"condition":{"test":"datum.value === 1000","value":"right"},"value":"center"},"labelOffset":{"condition":{"test":"datum.value === 1000","value":14},"value":0},"domain":false,"tickSize":5,"tickWidth":1.5,"labelFontSize":18,"titleFontSize":23,"labelPadding":3,"titlePadding":12}},
    "y":{"field":"f","type":"ordinal","scale":{"domain":[80,60,40,20,0,-20,-40,-60,-80],"paddingInner":0,"paddingOuter":0},"axis":{"values":[80,40,0,-40,-80],"title":null,"domain":false,"tickSize":4,"tickWidth":1.5,"labelFontSize":18,"labelPadding":1}}},
   "layer":[
    {"mark":{"type":"rect","fill":"white","stroke":"#1a1a1a","strokeWidth":1}},
    {"transform":[{"filter":"isValid(datum.q)"}],"mark":{"type":"rect","stroke":"#1a1a1a","strokeWidth":1},"encoding":{"color":{"field":"q","type":"quantitative","scale":{"domain":[2.1,4,8,12,16.2],"range":["#25206e","#2d2880","#4c4496","#8f87c3","#dcd9ef"],"interpolate":"rgb"},"legend":null}}},
    {"data":{"name":"dots"},"mark":{"type":"point","filled":true,"size":85,"stroke":"black","strokeWidth":1.2,"opacity":1},"encoding":{"fill":{"field":"c","type":"nominal","scale":{"domain":["r","y","t","p"],"range":["#d8262a","#e9b233","#3c9c90","#4b1683"]},"legend":null}}}
   ]}
 ],"spacing":12,"bounds":"flush"}
 ],"spacing":17,"resolve":{"scale":{"color":"independent"}}}
],"spacing":0,"resolve":{"scale":{"color":"independent"}}},
{"hconcat":[
 {"width":1,"height":1,"data":{"values":[]},"mark":{"type":"point","opacity":0}},
 {"hconcat":[
 {"vconcat":[
  {"width":273,"height":10,
   "data":{"values":[{"lo":0.0049,"hi":0.0301}]},
   "layer":[
    {"mark":{"type":"rect","color":{"gradient":"linear","x1":0,"y1":0,"x2":1,"y2":0,"stops":[{"offset":0,"color":"#210820"},{"offset":0.202,"color":"#4a1f4e"},{"offset":0.5,"color":"#9a5496"},{"offset":0.798,"color":"#c985b6"},{"offset":1,"color":"#dba8cb"}]},"stroke":"black","strokeWidth":1.5},
     "encoding":{"x":{"field":"lo","type":"quantitative","scale":{"domain":[0.0049,0.0301],"nice":false,"zero":false},"axis":{"orient":"top","values":[0.01,0.025],"format":"~g","title":"Dip statistic","tickSize":4,"tickWidth":1.5,"labelFontSize":16,"titleFontSize":18,"titlePadding":-6,"labelPadding":1,"domain":false,"labelFlush":false}},"x2":{"field":"hi"},"y":{"datum":0,"type":"quantitative","scale":{"domain":[0,1],"nice":false},"axis":null},"y2":{"datum":1}}},
    {"mark":{"type":"text","text":"D","fontSize":22,"fontWeight":"bold"},"encoding":{"x":{"datum":0.00045,"type":"quantitative","scale":{"domain":[0.0049,0.0301],"nice":false,"zero":false}},"y":{"datum":1.55,"type":"quantitative","scale":{"domain":[0,1],"nice":false}}}}
   ]},
  {"width":273,"height":240,
   "view":{"stroke":"black","strokeWidth":2.5},
   "data":{"name":"grid"},
   "mark":{"type":"rect","stroke":"#1a1a1a","strokeWidth":1},
   "encoding":{
    "x":{"field":"k","type":"ordinal","scale":{"domain":[200,300,400,500,600,700,800,900,1000],"paddingInner":0,"paddingOuter":0},"axis":{"values":[200,400,600,800,1000],"title":"Load stiffness (μN·m⁻¹)","labelAngle":0,"labelAlign":{"condition":{"test":"datum.value === 1000","value":"right"},"value":"center"},"labelOffset":{"condition":{"test":"datum.value === 1000","value":14},"value":0},"domain":false,"tickSize":5,"tickWidth":1.5,"labelFontSize":18,"titleFontSize":23,"labelPadding":3,"titlePadding":8}},
    "y":{"field":"f","type":"ordinal","scale":{"domain":[80,60,40,20,0,-20,-40,-60,-80],"paddingInner":0,"paddingOuter":0},"axis":{"values":[80,40,0,-40,-80],"title":"Constant force (pN)","domain":false,"tickSize":4,"tickWidth":1.5,"labelFontSize":18,"titleFontSize":23,"labelPadding":1,"titlePadding":0}},
    "color":{"field":"d","type":"quantitative","scale":{"domain":[0.0049,0.01,0.0175,0.025,0.0301],"range":["#210820","#4a1f4e","#9a5496","#c985b6","#dba8cb"],"interpolate":"rgb"},"legend":null}}}
 ],"spacing":8,"bounds":"flush"},
 {"vconcat":[
  {"width":240,"height":10,
   "data":{"values":[{}]},
   "mark":{"type":"text","text":"E","fontSize":22,"fontWeight":"bold"},
   "encoding":{"x":{"datum":-1.46,"type":"quantitative","scale":{"domain":[-1,1],"nice":false},"axis":null},"y":{"datum":14,"type":"quantitative","scale":{"domain":[0,10],"nice":false},"axis":null}}},
  {"width":240,"height":241,
   "view":{"stroke":"black","strokeWidth":2.5},
   "layer":[
    {"data":{"values":[{}]},"mark":{"type":"rule","color":"#aaaaaa","strokeWidth":2,"strokeDash":[4,3]},
     "encoding":{"x":{"datum":0,"type":"quantitative","scale":{"domain":[-1,1],"nice":false},"axis":{"values":[-1,-0.5,0,0.5,1],"format":"~g","labelExpr":"datum.value > 0 ? '+' + datum.label : replace(datum.label, '\u2212', '-')","labelAlign":{"condition":{"test":"datum.value >= 1","value":"right"},"value":"center"},"labelOffset":{"condition":{"test":"datum.value >= 1","value":3},"value":0},"title":"ρ (KL)","domain":false,"tickSize":7,"tickWidth":2,"labelFontSize":18,"titleFontSize":22,"labelPadding":3,"titlePadding":4,"labelFlush":false}},
      "y":{"datum":-1,"type":"quantitative","scale":{"domain":[-1,1],"nice":false},"axis":{"values":[-1,-0.5,0,0.5,1],"format":"~g","labelExpr":"datum.value > 0 ? '+' + datum.label : replace(datum.label, '\u2212', '-')","title":"ρ (FC)","domain":false,"tickSize":7,"tickWidth":2,"labelFontSize":18,"titleFontSize":22,"labelPadding":3,"titlePadding":-14,"labelFlush":false}},
      "y2":{"datum":1}}},
    {"data":{"values":[{}]},"mark":{"type":"rule","color":"#aaaaaa","strokeWidth":2,"strokeDash":[4,3]},"encoding":{"x":{"datum":-1,"type":"quantitative"},"x2":{"datum":1},"y":{"datum":0,"type":"quantitative"}}},
    {"data":{"name":"rho"},"mark":{"type":"rule","strokeWidth":2.5},"encoding":{"x":{"field":"k0","type":"quantitative"},"y":{"field":"f0","type":"quantitative"},"x2":{"field":"rk"},"y2":{"field":"rf"},"color":{"field":"var","type":"nominal","scale":{"domain":["amplitude","frequency"],"range":["#a51d24","#26227d"]},"legend":null}}},
    {"data":{"name":"rho"},"transform":[{"filter":"datum.var === 'amplitude'"}],"mark":{"type":"point","shape":"M0,0L0.55,1.7L0,1.35L-0.55,1.7Z","angle":250.8,"filled":true,"color":"#a51d24","size":200,"opacity":1},"encoding":{"x":{"field":"rk","type":"quantitative"},"y":{"field":"rf","type":"quantitative"}}},
    {"data":{"name":"rho"},"transform":[{"filter":"datum.var === 'frequency'"}],"mark":{"type":"point","shape":"M0,0L0.55,1.7L0,1.35L-0.55,1.7Z","angle":140,"filled":true,"color":"#26227d","size":200,"opacity":1},"encoding":{"x":{"field":"rk","type":"quantitative"},"y":{"field":"rf","type":"quantitative"}}},
    {"data":{"values":[{}]},"mark":{"type":"point","filled":true,"color":"black","size":150,"opacity":1},"encoding":{"x":{"datum":0,"type":"quantitative"},"y":{"datum":0,"type":"quantitative"}}}
   ]}
 ],"spacing":8,"bounds":"flush"}
 ],"spacing":20,"resolve":{"scale":{"color":"independent"}}}
],"spacing":0,"resolve":{"scale":{"color":"independent"}}}
]
}
